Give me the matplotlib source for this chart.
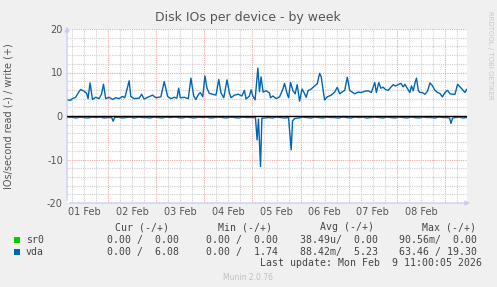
import matplotlib
matplotlib.use('Agg')
import matplotlib.pyplot as plt
from matplotlib.patches import Rectangle

# hours since 01 Feb 00:00
write_t = [3.7, 5.3, 6.2, 7.8, 9.5, 10.3, 12, 13.3, 14, 15, 16.2, 17.8, 19.5, 20.7, 21.7, 22.8,
           24.5, 26.2, 27.8, 29.5, 31.2, 32.3, 33.2, 34.5, 35.3, 37, 39.5, 40.7, 42, 43.7, 46.2,
           47.8, 50.3, 52, 53.7, 55.3, 57, 58.3, 59.2, 60, 62, 64, 65.3, 66.7, 67.8, 69, 70,
           71.2, 72.3, 73.3, 74.5, 76.2, 77.8, 79.2, 80.3, 81.7, 83.3, 84.5, 85.3, 87, 89, 90.7,
           92, 92.8, 94.5, 95.3, 96.2, 97.3, 98.7, 99.5, 100.3, 101.3, 102.8, 104.5, 105, 106.2,
           107.8, 109.5, 111.2, 112, 113.3, 114, 115, 116.2, 117.3, 118.3, 119.5, 120.7, 121.7,
           122.8, 123.7, 125.3, 127, 128.3, 129.5, 130.3, 131.2, 132, 133.3, 135.3, 137, 138.3,
           139.5, 140.7, 142, 143.3, 144.5, 145.7, 147, 148.7, 150.3, 152, 153.7, 155.3, 157,
           157.8, 159, 160, 161.2, 162.3, 163.7, 165, 166.2, 167.3, 168.7, 170, 171.2, 172,
           173.3, 174.5, 175.3, 176.2, 177, 177.8, 178.7, 179.5, 180.7, 182, 183.3, 184.5,
           185.7, 187, 188.3, 189.5, 190.7, 192, 193.3, 194.5, 195.7, 197, 198.3, 199.5, 200.7,
           202, 202.8]
write_v = [3.7, 3.6, 4.0, 4.3, 5.6, 6.1, 5.7, 5.2, 4.0, 7.6, 3.8, 4.3, 4.0, 5.0, 7.3, 4.0,
           4.3, 3.8, 4.2, 4.0, 4.5, 4.2, 5.7, 8.1, 4.5, 4.0, 4.1, 5.0, 3.9, 4.3, 4.8,
           4.2, 4.4, 7.9, 4.5, 4.0, 4.3, 4.1, 6.4, 4.2, 4.3, 4.0, 8.7, 4.6, 3.8, 4.9, 5.4,
           4.4, 9.2, 6.4, 5.2, 5.0, 4.8, 8.4, 5.3, 4.2, 8.3, 5.3, 4.2, 4.8, 5.0, 4.6,
           5.9, 3.9, 4.6, 6.0, 4.6, 3.7, 11.0, 5.6, 9.0, 5.5, 5.8, 5.3, 4.2, 4.6,
           4.0, 4.4, 6.2, 7.5, 5.1, 4.2, 7.7, 5.8, 5.1, 7.2, 3.4, 6.2, 5.4,
           4.3, 5.8, 6.2, 6.9, 7.4, 9.8, 9.0, 6.0, 3.7, 4.4, 4.8, 5.5, 6.6,
           5.1, 5.5, 5.9, 8.9, 5.9, 5.5, 5.1, 5.5, 5.4, 5.7, 5.8, 5.4, 7.7,
           5.4, 7.7, 6.4, 6.6, 6.1, 5.9, 6.6, 7.2, 6.9, 7.2, 7.5, 6.7, 7.3,
           6.3, 5.4, 6.9, 5.8, 7.5, 8.7, 5.9, 5.4, 5.4, 5.0, 5.7, 7.6,
           7.0, 5.9, 5.4, 5.2, 4.4, 5.4, 5.9, 5.1, 5.0, 5.0, 7.3, 6.7, 6.1,
           5.4, 6.1]

read_t = [3.7, 6, 8, 10, 12, 14, 16, 18, 20, 22, 24, 25.8, 26.5, 27.3, 29, 31, 33, 35, 37, 39,
          41, 43, 45, 47, 49, 51, 53, 55, 57, 59, 61, 63, 65, 67, 69, 71, 73, 75, 77, 79, 81,
          83, 85, 87, 89, 91, 93, 95, 97.5, 98.3, 99, 100, 100.7, 102, 104, 106, 108, 110,
          112, 114, 115.3, 116, 117, 119, 121, 123, 125, 127, 129, 131, 133, 135, 137, 139,
          141, 143, 145, 147, 149, 151, 153, 155, 157, 159, 161, 163, 165, 167, 169, 171,
          173, 175, 177, 179, 181, 183, 185, 187, 189, 191, 193, 194.3, 195, 195.8, 197,
          199, 201, 202.8]
read_v = [-0.35, -0.25, -0.45, -0.25, -0.35, -0.45, -0.25, -0.35, -0.25, -0.45, -0.35, -0.35,
          -1.2, -0.35, -0.25, -0.45, -0.35, -0.25, -0.45, -0.25, -0.35, -0.35, -0.45, -0.25,
          -0.35, -0.45, -0.25, -0.35, -0.25, -0.35, -0.45, -0.25, -0.35, -0.45, -0.25, -0.35,
          -0.25, -0.45, -0.35, -0.25, -0.35, -0.45, -0.25, -0.35, -0.45, -0.25, -0.35, -0.35,
          -0.35, -5.5, -0.7, -11.6, -0.5, -0.45, -0.35, -0.45, -0.25, -0.35, -0.45, -0.35,
          -7.8, -1.1, -0.6, -0.45, -0.25, -0.35, -0.45, -0.25, -0.35, -0.45, -0.25, -0.35,
          -0.35, -0.45, -0.25, -0.35, -0.45, -0.25, -0.35, -0.25, -0.45, -0.35, -0.25, -0.35,
          -0.45, -0.25, -0.35, -0.45, -0.25, -0.35, -0.45, -0.25, -0.35, -0.45, -0.25, -0.35,
          -0.35, -0.45, -0.25, -0.35, -0.35, -0.45, -1.7, -0.5, -0.35, -0.25, -0.45, -0.35]

sr0_t = [3.5, 203]
sr0_v = [0.0, 0.0]

day_labels = ['01 Feb', '02 Feb', '03 Feb', '04 Feb', '05 Feb', '06 Feb', '07 Feb', '08 Feb']

legend_cols = ['Cur (-/+)', 'Min (-/+)', 'Avg (-/+)', 'Max (-/+)']
legend_rows = [
    ('sr0', '#00CC00', ['0.00 /  0.00', '0.00 /  0.00', '38.49u/  0.00', '90.56m/  0.00']),
    ('vda', '#0066B3', ['0.00 /  6.08', '0.00 /  1.74', '88.42m/  5.23', '63.46 / 19.30']),
]
last_update = 'Last update: Mon Feb  9 11:00:05 2026'

W, H = 497, 287
fig = plt.figure(figsize=(W / 100, H / 100), dpi=100, facecolor='#F0F0F0')
ax = fig.add_axes([67 / W, 1 - 203 / H, 400 / W, 174 / H])
ax.set_facecolor('white')

x0, x1 = 3.5, 203
ax.set_xlim(x0, x1)
ax.set_ylim(-20, 20)

# grid: minor every 6 h / 2 units, major (red) at midnight / every 10
dot = (0, (1, 1))
for h in range(6, 204, 6):
    c = '#F0A8A8' if h % 24 == 0 else '#CFCFCF'
    ax.axvline(h, color=c, lw=0.8, ls=dot, zorder=1)
for y in range(-18, 21, 2):
    c = '#F0A8A8' if y % 10 == 0 else '#CFCFCF'
    ax.axhline(y, color=c, lw=0.8, ls=dot, zorder=1)

ax.plot(sr0_t, sr0_v, color='#00CC00', lw=1, zorder=2)
ax.plot(read_t, read_v, color='#0066B3', lw=1.0, zorder=3)
ax.plot(write_t, write_v, color='#0066B3', lw=1.0, zorder=3)
ax.axhline(0, color='black', lw=0.9, zorder=4)

for s in ax.spines.values():
    s.set_visible(False)

ax.set_xticks([12 + 24 * i for i in range(len(day_labels))])
ax.set_xticklabels(day_labels)
ax.set_yticks([-20, -10, 0, 10, 20])
ax.set_yticklabels(['-20', '-10', '0', '10', '20'])
ax.tick_params(length=0, labelsize=7, colors='#555555', pad=3)

# axes with arrows
axis_col = '#C8CCF4'
ax.annotate('', xy=(x0, 21.2), xytext=(x0, -20), xycoords='data',
            arrowprops=dict(arrowstyle='-|>', color=axis_col, lw=0.9, mutation_scale=7),
            annotation_clip=False)
ax.annotate('', xy=(x1 + 3, -20), xytext=(x0, -20), xycoords='data',
            arrowprops=dict(arrowstyle='-|>', color=axis_col, lw=0.9, mutation_scale=7),
            annotation_clip=False)

fig.text(248 / W, 1 - 18 / H, 'Disk IOs per device - by week', ha='center', va='center',
         fontsize=9, color='#555555')
fig.text(9 / W, 1 - 116 / H, 'IOs/second read (-) / write (+)', ha='center', va='center',
         rotation=90, fontsize=7, color='#555555')
fig.text(490 / W, 1 - 55 / H, 'RRDTOOL / TOBI OETIKER', ha='center', va='center',
         rotation=270, fontsize=5, color='#C8C8C8')

mono = 'DejaVu Sans Mono'
fs = 7.1
col_right = [169, 272, 374, 476]
val_right = [179, 278, 378, 477]
for name, xr in zip(legend_cols, col_right):
    fig.text(xr / W, 1 - 227 / H, name, ha='right', va='center', family=mono, fontsize=fs,
             color='#444444')
for i, (name, colr, vals) in enumerate(legend_rows):
    yy = 240 + 12 * i
    fig.patches.append(Rectangle((14 / W, 1 - (yy + 3) / H), 6 / W, 6 / H,
                                 transform=fig.transFigure, facecolor=colr, edgecolor='none'))
    fig.text(26 / W, 1 - yy / H, name, ha='left', va='center', family=mono, fontsize=fs,
             color='#444444')
    for v, xr in zip(vals, val_right):
        fig.text(xr / W, 1 - yy / H, v, ha='right', va='center', family=mono, fontsize=fs,
                 color='#444444')
fig.text(482 / W, 1 - 263 / H, last_update, ha='right', va='center', family=mono, fontsize=fs,
         color='#444444')
fig.text(248 / W, 1 - 277 / H, 'Munin 2.0.76', ha='center', va='center', fontsize=5.5,
         color='#C0C0C0')

fig.savefig('out.png', dpi=100, facecolor=fig.get_facecolor())
